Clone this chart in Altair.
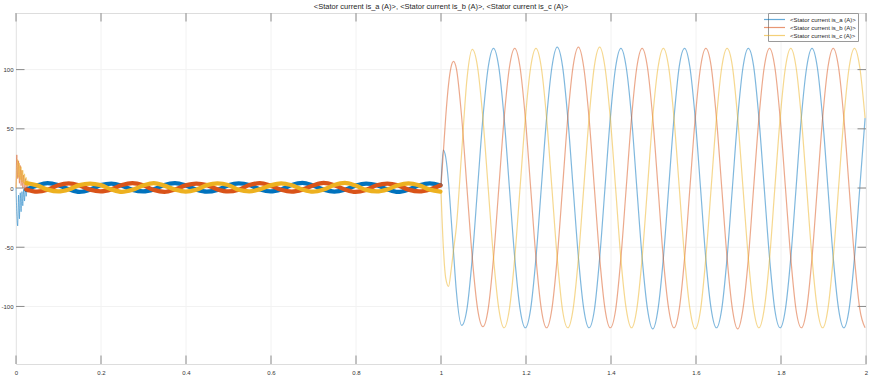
import altair as alt
import pandas as pd

SERIES = ["<Stator current is_a (A)>", "<Stator current is_b (A)>", "<Stator current is_c (A)>"]
COLORS = ["#0072BD", "#D95319", "#EDB120"]
TITLE = "<Stator current is_a (A)>, <Stator current is_b (A)>, <Stator current is_c (A)>"
X_TICKS = [0, 0.2, 0.4, 0.6, 0.8, 1, 1.2, 1.4, 1.6, 1.8, 2]
Y_TICKS = [-100, -50, 0, 50, 100]

# start-up transient (s, A)
T_START = [0, 0.002, 0.004, 0.006, 0.008, 0.010, 0.012, 0.014, 0.016, 0.018, 0.020, 0.022, 0.024, 0.026, 0.028]
A_START = [0, -22, -32, -6, -26, -4, -20, -3, -15, -1, -11, 0, -7, 1, -3]
B_START = [0, 28, 8, 23, 4, 19, 2, 15, 0, 11, -2, 8, -3, 5, -4]
C_START = [0, 14, 24, 9, 21, 7, 18, 5, 15, 4, 12, 4, 9, 3, 7]

# light-load ripple band, one sample every NOISE_STEP s from NOISE_T0
NOISE_T0 = 0.0244
NOISE_STEP = 0.02498
A_NOISE = [-1.5, 2.1, 4.2, 2.5, -1.0, -3.2,
           -1.4, 2.4, 3.8, 2.0, -1.5, -2.8,
           -1.1, 2.6, 4.1, 2.2, -1.3, -3.1,
           -1.6, 2.2, 3.9, 2.6, -1.2, -2.9,
           -1.2, 2.5, 4.3, 2.1, -1.4, -3.0,
           -1.5, 2.0, 3.7, 2.4, -1.1, -3.3,
           -1.3, 2.3, 4.0, 2.3]
B_NOISE = [-1.2, -3.1, -1.5, 2.4, 3.9, 2.1,
           -1.4, -2.8, -1.1, 2.6, 4.2, 2.3,
           -1.6, -3.2, -1.2, 2.2, 3.8, 2.5,
           -1.1, -2.9, -1.4, 2.5, 4.1, 2.0,
           -1.5, -3.0, -1.3, 2.1, 4.3, 2.4,
           -1.2, -3.3, -1.6, 2.3, 3.7, 2.2,
           -1.4, -2.9, -1.2, 2.4]
C_NOISE = [4.1, 2.2, -1.4, -2.9, -1.2, 2.5,
           3.8, 2.4, -1.1, -3.2, -1.5, 2.1,
           4.2, 2.0, -1.3, -3.0, -1.4, 2.4,
           3.9, 2.6, -1.5, -2.8, -1.1, 2.2,
           4.0, 2.3, -1.2, -3.1, -1.3, 2.5,
           4.3, 2.1, -1.6, -2.9, -1.2, 2.3,
           3.9, 2.2, -1.4, -3.0]

# load step at t = 1 s
T_STEP = [1.000, 1.0055, 1.0111, 1.0179, 1.0236, 1.0296, 1.0361, 1.0486]
A_STEP = [2, 32, 26, 4, -24, -55, -87, -116]
B_STEP = [2, 30, 60, 88, 102, 107, 101, 60]
C_STEP = [-3, -50, -76, -83, -70, -52, -33, 30]

# loaded operation, one sample every RUN_STEP s from RUN_T0
RUN_T0 = 1.0611
RUN_STEP = 0.01249
A_RUN = [-102, -59, 0, 59, 102,
         118, 102, 59, 0, -59, -102, -118, -102, -59, 0, 59, 102,
         119, 103, 59, 0, -59, -102, -118, -103, -59, 0, 59, 102,
         118, 102, 60, 0, -59, -102, -119, -102, -59, 0, 59, 103,
         118, 102, 59, 0, -60, -102, -118, -102, -59, 0, 59, 102,
         118, 103, 59, 0, -59, -103, -118, -102, -59, 0, 60, 102,
         118, 102, 59, 0, -59, -102, -118, -102, -59, 0, 59]
B_RUN = [0, -59, -102, -117, -102,
         -59, 0, 59, 102, 118, 102, 59, 0, -59, -102, -118, -102,
         -59, 0, 60, 103, 119, 102, 59, 0, -59, -102, -118, -103,
         -59, 0, 59, 102, 118, 102, 59, 0, -60, -102, -118, -102,
         -59, 0, 59, 102, 118, 103, 59, 0, -59, -102, -119, -102,
         -60, 0, 59, 102, 118, 102, 59, 0, -59, -103, -118, -102,
         -59, 0, 59, 102, 118, 102, 59, 0, -59, -102, -118]
C_RUN = [92, 117, 102, 59, 0,
         -59, -102, -118, -102, -59, 0, 59, 102, 118, 102, 59, 0,
         -59, -103, -118, -102, -59, 0, 59, 103, 119, 102, 59, 0,
         -60, -102, -118, -102, -59, 0, 60, 102, 118, 102, 59, 0,
         -59, -102, -119, -103, -59, 0, 59, 102, 118, 103, 59, 0,
         -59, -102, -118, -102, -60, 0, 59, 102, 118, 102, 59, 0,
         -59, -102, -118, -102, -59, 0, 59, 102, 118, 102, 59]

rows = []
for s, st, nz, stp, run in zip(SERIES, [A_START, B_START, C_START], [A_NOISE, B_NOISE, C_NOISE],
                               [A_STEP, B_STEP, C_STEP], [A_RUN, B_RUN, C_RUN]):
    for t, v in zip(T_START, st):
        rows.append({"t": t, "v": v, "series": s, "seg": "start"})
    for i, v in enumerate(nz):
        rows.append({"t": round(NOISE_T0 + i * NOISE_STEP, 5), "v": v, "series": s, "seg": "noise"})
    for t, v in zip(T_STEP, stp):
        rows.append({"t": t, "v": v, "series": s, "seg": "run"})
    for i, v in enumerate(run):
        rows.append({"t": round(RUN_T0 + i * RUN_STEP, 5), "v": v, "series": s, "seg": "run"})
df = pd.DataFrame(rows)

W, H = 850, 351
TICK_LEN = 8.5
FRAME = "#8a8a8a"
FONT = "Liberation Sans"

xscale = alt.Scale(domain=[0, 2], nice=False, zero=False)
yscale = alt.Scale(domain=[-148.6, 147.8], nice=False, zero=False)
xaxis = alt.Axis(values=X_TICKS, labelExpr="'' + datum.value", tickSize=0, domain=False, grid=False,
                 labelFontSize=6, labelFont=FONT, labelColor="#333333", labelPadding=5,
                 labelFlush=False, labelOverlap=False)
yaxis = alt.Axis(values=Y_TICKS, labelExpr="'' + datum.value", tickSize=0, domain=False, grid=False,
                 labelFontSize=6, labelFont=FONT, labelColor="#333333", labelPadding=3,
                 labelOverlap=False)

xt = pd.DataFrame({"tick": X_TICKS})
yt = pd.DataFrame({"tick": Y_TICKS})
XT = alt.X("tick:Q", scale=xscale, axis=xaxis, title=None)
YT = alt.Y("tick:Q", scale=yscale, axis=yaxis, title=None)

grid_x = alt.Chart(xt).mark_rule(color="#f2f2f2", strokeWidth=1).encode(x=XT)
grid_y = alt.Chart(yt).mark_rule(color="#f2f2f2", strokeWidth=1).encode(y=YT)

X = alt.X("t:Q", scale=xscale, axis=xaxis, title=None)
Y = alt.Y("v:Q", scale=yscale, axis=yaxis, title=None)
cscale = alt.Scale(domain=SERIES, range=COLORS)
legend = alt.Legend(title=None, orient="none", legendX=752, legendY=0,
                    fillColor="white", strokeColor="#9a9a9a", padding=2,
                    labelFontSize=6, labelFont=FONT, labelColor="#262626",
                    symbolType="M-3,0H3", symbolSize=49, symbolStrokeWidth=1.2,
                    labelOffset=11, rowPadding=0, symbolOpacity=0.6)
COLOR = alt.Color("series:N", scale=cscale, legend=legend)

base = alt.Chart(df)
start = base.transform_filter(alt.datum.seg == "start").mark_line(
    interpolate="monotone", strokeWidth=0.9, opacity=0.55).encode(
    x=X, y=Y, color=COLOR, order=alt.Order("t:Q"))
noise = base.transform_filter(alt.datum.seg == "noise").mark_line(
    interpolate="monotone", strokeWidth=4.3, opacity=1, strokeCap="round").encode(
    x=X, y=Y, color=COLOR, order=alt.Order("t:Q"))
run = base.transform_filter(alt.datum.seg == "run").mark_line(
    interpolate="monotone", strokeWidth=1.2, opacity=0.5).encode(
    x=X, y=Y, color=COLOR, order=alt.Order("t:Q"))

tick_b = alt.Chart(xt).mark_rule(color=FRAME, strokeWidth=1).encode(
    x=XT, y=alt.value(H - TICK_LEN), y2=alt.value(H))
tick_t = alt.Chart(xt).mark_rule(color=FRAME, strokeWidth=1).encode(
    x=XT, y=alt.value(0), y2=alt.value(TICK_LEN))
tick_l = alt.Chart(yt).mark_rule(color=FRAME, strokeWidth=1).encode(
    y=YT, x=alt.value(0), x2=alt.value(TICK_LEN))
tick_r = alt.Chart(yt).mark_rule(color=FRAME, strokeWidth=1).encode(
    y=YT, x=alt.value(W - TICK_LEN), x2=alt.value(W))

chart = alt.layer(grid_x, grid_y, start, noise, run, tick_b, tick_t, tick_l, tick_r).properties(
    width=W, height=H,
    title=alt.TitleParams(TITLE, fontSize=7.5, font=FONT, fontWeight="normal", color="#262626",
                          offset=2.5, anchor="middle"),
    autosize=alt.AutoSizeParams(type="none"),
    padding={"left": 16, "top": 13, "right": 9, "bottom": 24},
).configure_view(stroke=FRAME, strokeWidth=1).configure(background="white")

chart.save("out.html", embed_options={"renderer": "svg", "actions": False})
